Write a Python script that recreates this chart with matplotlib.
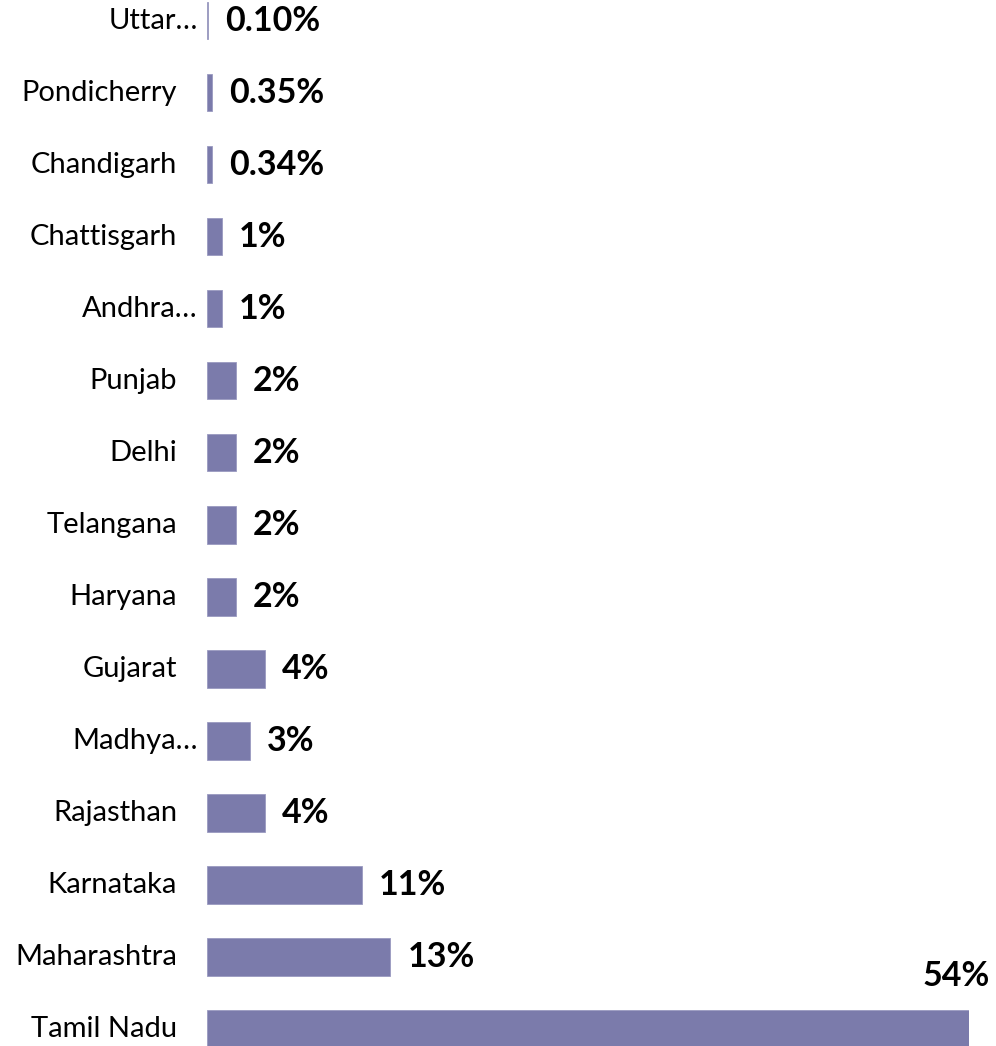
import matplotlib.pyplot as plt

states = ["Uttar…", "Pondicherry", "Chandigarh", "Chattisgarh", "Andhra…",
          "Punjab", "Delhi", "Telangana", "Haryana", "Gujarat", "Madhya…",
          "Rajasthan", "Karnataka", "Maharashtra", "Tamil Nadu"]
shares = [0.10, 0.35, 0.34, 1.05, 1.05, 2.05, 2.05, 2.05, 2.05, 4.1, 3.05, 4.1,
          11.0, 13.0, 54.0]
share_labels = ["0.10%", "0.35%", "0.34%", "1%", "1%", "2%", "2%", "2%", "2%",
                "4%", "3%", "4%", "11%", "13%", "54%"]

bar_color = "#7b7bab"

plt.rcParams["font.family"] = ["Lato", "DejaVu Sans"]

fig = plt.figure(figsize=(9.96, 10.46), dpi=100)
ax = fig.add_axes([207 / 996, 0, (969 - 207) / 996, 1])

ypos = list(range(len(states)))
ax.barh(ypos, shares, height=0.52, color=bar_color, edgecolor="#9a9ac0",
        linewidth=0.6)

ax.set_xlim(0, 54)
ax.set_ylim(14.235, -0.285)

for y, name, val, lab in zip(ypos, states, shares, share_labels):
    # category names, ellipsis ones poke out to the right like in Excel
    dx = -9 if name.endswith("…") else -30
    ax.annotate(name, (0, y), xytext=(dx, 0), textcoords="offset pixels",
                ha="right", va="center", fontsize=21, color="#000000")
    if lab == "54%":
        ax.annotate(lab, (val, y), xytext=(21, 53), textcoords="offset pixels",
                    ha="right", va="center", fontsize=24.5, fontweight="bold")
    else:
        ax.annotate(lab, (val, y), xytext=(17, 0), textcoords="offset pixels",
                    ha="left", va="center", fontsize=24.5, fontweight="bold")

ax.set_xticks([])
ax.set_yticks([])
for s in ax.spines.values():
    s.set_visible(False)

fig.savefig("out.png", dpi=100)
